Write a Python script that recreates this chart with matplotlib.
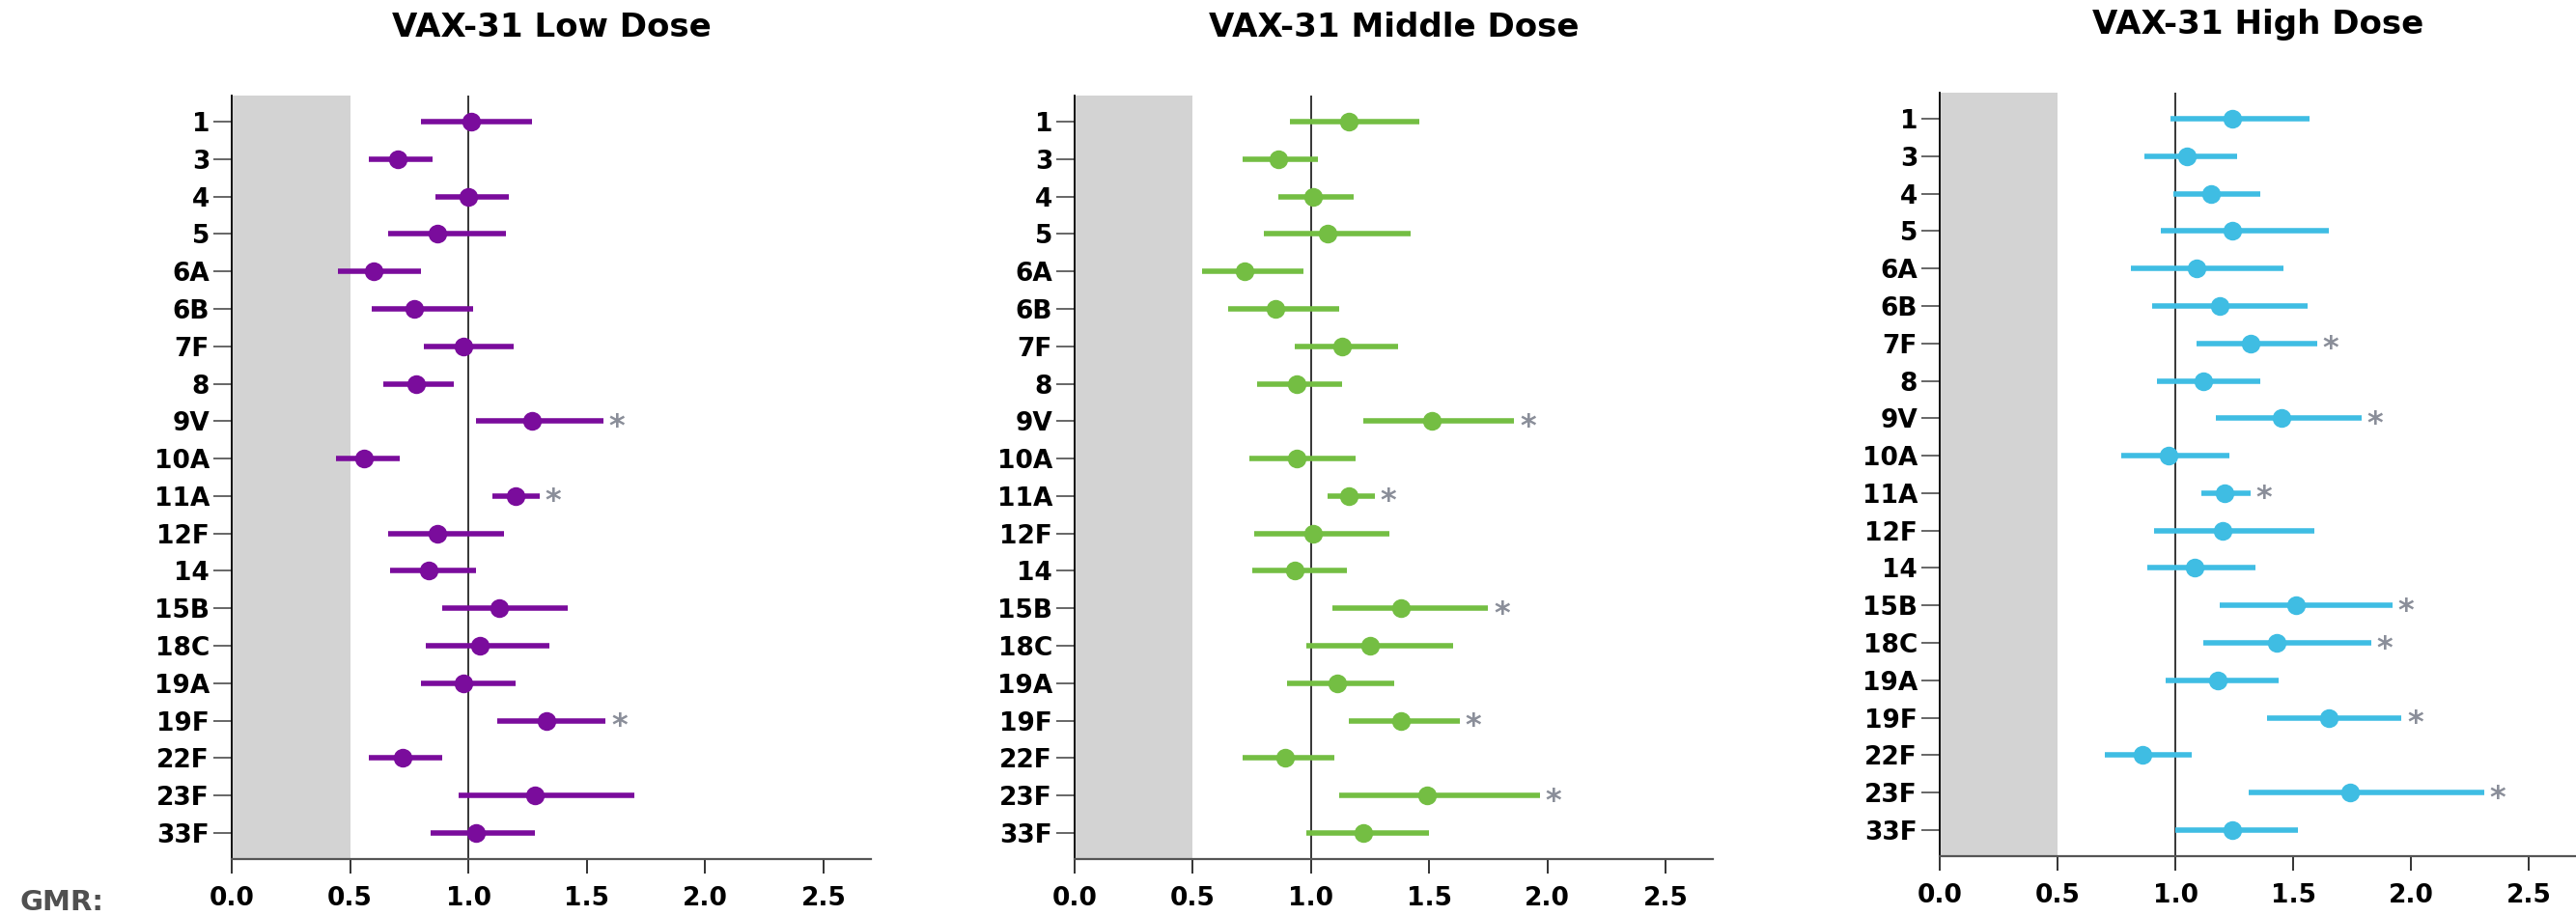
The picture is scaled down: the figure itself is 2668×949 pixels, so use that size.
import matplotlib
matplotlib.use("Agg")
import matplotlib.pyplot as plt
from matplotlib.transforms import offset_copy

plt.rcParams['font.family'] = ['DejaVu Sans']
plt.rcParams['font.weight'] = 'bold'

serotypes = ['1', '3', '4', '5', '6A', '6B', '7F', '8', '9V', '10A', '11A', '12F',
             '14', '15B', '18C', '19A', '19F', '22F', '23F', '33F']

low_gmr = [1.01, 0.70, 1.00, 0.87, 0.60, 0.77, 0.98, 0.78, 1.27, 0.56, 1.20, 0.87,
           0.83, 1.13, 1.05, 0.98, 1.33, 0.72, 1.28, 1.03]
low_lo = [0.80, 0.58, 0.86, 0.66, 0.45, 0.59, 0.81, 0.64, 1.03, 0.44, 1.10, 0.66,
          0.67, 0.89, 0.82, 0.80, 1.12, 0.58, 0.96, 0.84]
low_hi = [1.27, 0.85, 1.17, 1.16, 0.80, 1.02, 1.19, 0.94, 1.57, 0.71, 1.30, 1.15,
          1.03, 1.42, 1.34, 1.20, 1.58, 0.89, 1.70, 1.28]
low_sig = ['9V', '11A', '19F']

mid_gmr = [1.16, 0.86, 1.01, 1.07, 0.72, 0.85, 1.13, 0.94, 1.51, 0.94, 1.16, 1.01,
           0.93, 1.38, 1.25, 1.11, 1.38, 0.89, 1.49, 1.22]
mid_lo = [0.91, 0.71, 0.86, 0.80, 0.54, 0.65, 0.93, 0.77, 1.22, 0.74, 1.07, 0.76,
          0.75, 1.09, 0.98, 0.90, 1.16, 0.71, 1.12, 0.98]
mid_hi = [1.46, 1.03, 1.18, 1.42, 0.97, 1.12, 1.37, 1.13, 1.86, 1.19, 1.27, 1.33,
          1.15, 1.75, 1.60, 1.35, 1.63, 1.10, 1.97, 1.50]
mid_sig = ['9V', '11A', '15B', '19F', '23F']

high_gmr = [1.24, 1.05, 1.15, 1.24, 1.09, 1.19, 1.32, 1.12, 1.45, 0.97, 1.21, 1.20,
            1.08, 1.51, 1.43, 1.18, 1.65, 0.86, 1.74, 1.24]
high_lo = [0.98, 0.87, 0.99, 0.94, 0.81, 0.90, 1.09, 0.92, 1.17, 0.77, 1.11, 0.91,
           0.88, 1.19, 1.12, 0.96, 1.39, 0.70, 1.31, 1.00]
high_hi = [1.57, 1.26, 1.36, 1.65, 1.46, 1.56, 1.60, 1.36, 1.79, 1.23, 1.32, 1.59,
           1.34, 1.92, 1.83, 1.44, 1.96, 1.07, 2.31, 1.52]
high_sig = ['7F', '9V', '11A', '15B', '18C', '19F', '23F']

titles = ['VAX-31 Low Dose', 'VAX-31 Middle Dose', 'VAX-31 High Dose']
colors = ['#7A0C9C', '#74BE43', '#3FBDE3']
xticks = [0.0, 0.5, 1.0, 1.5, 2.0, 2.5]
xtick_labels = ['0.0', '0.5', '1.0', '1.5', '2.0', '2.5']

panels = [(low_gmr, low_lo, low_hi, low_sig),
          (mid_gmr, mid_lo, mid_hi, mid_sig),
          (high_gmr, high_lo, high_hi, high_sig)]

W, H = 2668, 949
fig = plt.figure(figsize=(W / 100, H / 100), dpi=100)

# axes boxes in pixels: left, right, top, bottom
boxes = [(240, 902, 99, 890), (1113, 1774, 99, 890), (2009, 2668, 96, 887)]
title_base = [38, 38, 35]

ypos = list(range(len(serotypes)))
for k, (box, (g, lo, hi, sig)) in enumerate(zip(boxes, panels)):
    l, r, t, b = box
    ax = fig.add_axes([l / W, (H - b) / H, (r - l) / W, (b - t) / H])
    ax.set_xlim(0, 2.7)
    ax.set_ylim(len(serotypes) - 0.3, -0.7)
    ax.axvspan(0, 0.5, color='#D3D3D3', lw=0, zorder=0)
    ax.axvline(1.0, color='black', lw=1.1, zorder=1)
    ax.hlines(ypos, lo, hi, color=colors[k], lw=4.0, capstyle='butt', zorder=2)
    ax.plot(g, ypos, 'o', color=colors[k], ms=14, mec='none', zorder=3)

    ast_tr = offset_copy(ax.transData, fig=fig, x=4, y=-10.5, units='points')
    for i, s in enumerate(serotypes):
        if s in sig:
            ax.text(hi[i], i, '*', transform=ast_tr, ha='left', va='baseline',
                    fontsize=23, color='#8A8E99', fontweight='bold')

    for side in ['top', 'right']:
        ax.spines[side].set_visible(False)
    ax.spines['left'].set_color('black')
    ax.spines['left'].set_linewidth(1.3)
    ax.spines['bottom'].set_color('#555555')
    ax.spines['bottom'].set_linewidth(1.6)

    ax.set_yticks(ypos)
    ax.set_yticklabels(serotypes, fontsize=19, fontweight='bold')
    ax.tick_params(axis='y', length=13.5, width=1.4, color='#666666', pad=3)
    ax.set_xticks(xticks)
    ax.set_xticklabels(xtick_labels, fontsize=19, fontweight='bold')
    ax.tick_params(axis='x', length=11, width=1.4, color='#333333', pad=9)

    fig.text((l + r) / 2 / W, 1 - title_base[k] / H, titles[k], ha='center',
             va='baseline', fontsize=24.5, fontweight='bold', color='black')

fig.text(20 / W, 1 - 935 / H, 'GMR:', ha='left', va='center', fontsize=21,
         fontweight='bold', color='#505050')

fig.savefig('out.png', dpi=100)
